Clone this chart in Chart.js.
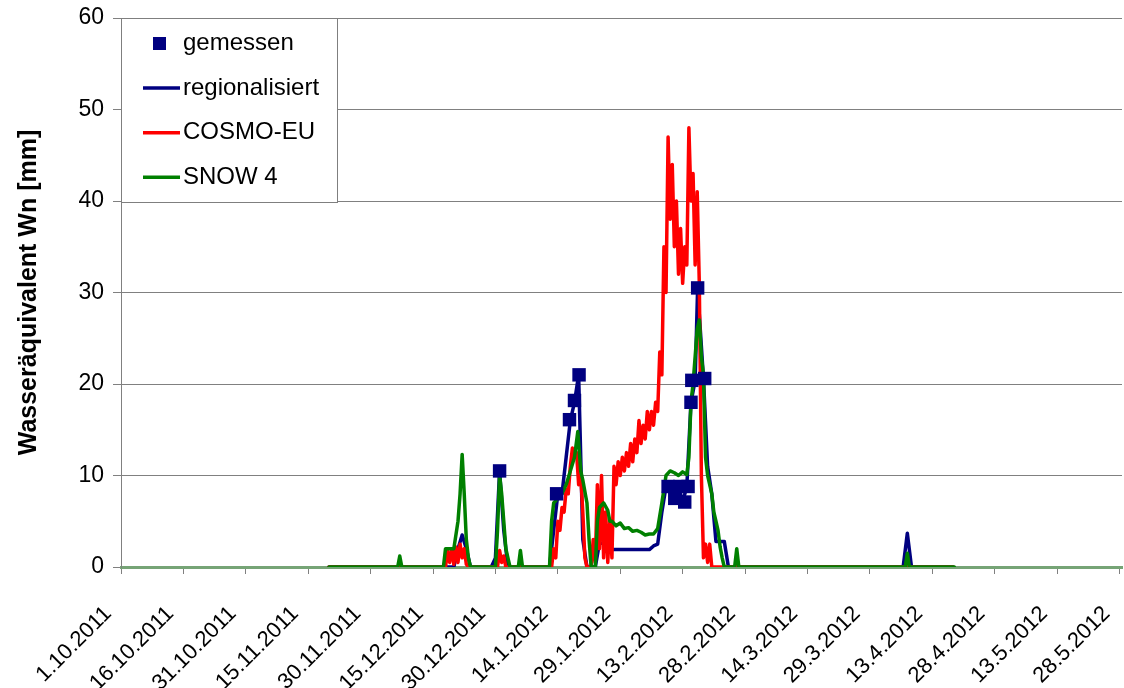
<!DOCTYPE html>
<html>
<head>
<meta charset="utf-8">
<script src="https://cdn.jsdelivr.net/npm/chart.js@4.4.0/dist/chart.umd.min.js"></script>
<style>
  body { margin: 0; background: #fff; }
  #wrap { width: 1124px; height: 688px; }
</style>
</head>
<body>
<div id="wrap"><canvas id="swe" width="1124" height="688"></canvas></div>
<script>
// days counted from 1.10.2011, x ticks every 15 days
const tickDays = [0, 15, 30, 45, 60, 75, 90, 105, 120, 135, 150, 165, 180, 195, 210, 225, 240];
const tickLabels = ['1.10.2011', '16.10.2011', '31.10.2011', '15.11.2011', '30.11.2011', '15.12.2011',
  '30.12.2011', '14.1.2012', '29.1.2012', '13.2.2012', '28.2.2012', '14.3.2012', '29.3.2012',
  '13.4.2012', '28.4.2012', '13.5.2012', '28.5.2012'];
const yTicks = [0, 10, 20, 30, 40, 50, 60];

// gemessen (measured points)
const measDays = [91, 104.7, 107.8, 109, 110.1, 131.5, 133.1, 134.3, 135.5, 136.3, 137, 137.2, 138.6, 140.3];
const measVals = [10.5, 8, 16.1, 18.2, 21, 8.8, 7.5, 8.8, 7.1, 8.8, 18, 20.4, 30.5, 20.6];

// regionalisiert
const regDays = [50, 80, 81, 82, 83, 84, 89, 90, 91, 92, 93, 103, 104, 105, 106, 107, 108, 109, 110, 111, 112,
  114, 115, 117, 118, 127, 128, 129, 130, 131, 132, 133, 134, 135, 136, 137, 138, 138.6, 140, 141, 142, 143,
  145, 146, 188, 189, 190, 200];
const regVals = [0, 0, 2, 3.5, 2, 0, 0, 1, 10.5, 4, 0, 0, 4, 8, 8, 12, 16, 18, 21, 3, 0,
  0, 2.6, 2.6, 1.9, 1.9, 2.3, 2.5, 6, 8.8, 8.5, 7.5, 8.8, 7.1, 8.8, 18, 20.4, 30.5, 20.6, 11, 8, 2.8,
  2.8, 0, 0, 3.7, 0, 0];

// COSMO-EU
const cosmoDays = [50, 78, 78.5, 79, 79.5, 80, 80.5, 81, 81.5, 82, 82.5, 83, 83.5, 90.5, 91, 91.5, 92, 92.5,
  103.5, 104, 104.5, 105, 105.5, 106, 106.5, 107, 107.5, 108, 108.5, 109, 109.5, 110, 110.5, 111, 111.5, 112,
  113, 113.5, 114, 114.5, 115, 115.5, 116, 116.5, 117, 117.5, 118, 118.5, 119, 119.5, 120, 120.5, 121, 121.5,
  122, 122.5, 123, 123.5, 124, 124.5, 125, 125.5, 126, 126.5, 127, 127.5, 128, 128.5, 129, 129.5, 130, 130.5,
  131, 131.5, 132, 132.5, 133, 133.5, 134, 134.5, 135, 135.5, 136, 136.5, 137, 137.5, 138, 138.5, 139, 139.5,
  140, 140.5, 141, 141.5, 142, 200];
const cosmoVals = [0, 0, 1.8, 0.5, 2, 0.3, 2.2, 0.5, 2.5, 1, 2, 0.3, 0, 0, 1.8, 0.5, 1.2, 0,
  0, 2, 1, 5, 4, 6.5, 6, 8.5, 8, 11, 13, 12, 12.5, 9, 10, 6, 1, 0,
  0, 3, 0.5, 9, 2, 10, 1, 6, 0.5, 5, 1, 11, 9, 11.5, 10, 12, 10.5, 12.5,
  11, 13.5, 11.5, 14, 12.5, 16, 13.5, 15.5, 14, 17, 15, 17, 15.5, 18, 17, 23.5, 21, 35,
  30, 47, 38, 44, 35, 40, 32, 37, 31, 35, 33, 48, 40, 43, 33, 41, 31, 10,
  1, 2.5, 0.5, 2.5, 0, 0];

// SNOW 4
const snowDays = [50, 66.5, 67, 67.5, 77.5, 78, 80, 81, 81.5, 82, 82.5, 83, 83.5, 84, 90, 90.5, 91, 91.5, 92,
  92.5, 93, 93.5, 95.5, 96, 96.5, 103, 103.5, 104, 105, 106, 107, 108, 109, 109.8, 110.5, 111, 112, 112.5, 113,
  114, 114.5, 115, 116, 117, 117.5, 118, 119, 120, 121, 122, 123, 124, 125, 126, 127, 128, 129, 130, 131, 132,
  133, 134, 135, 136, 136.5, 137, 137.5, 138, 138.5, 139, 139.5, 140, 140.5, 141, 141.5, 142, 142.5, 143, 143.5,
  144, 144.5, 145, 147.5, 148, 148.5, 188.5, 189, 189.5, 200.3];
const snowVals = [0, 0, 1.2, 0, 0, 2, 2, 5, 8, 12.3, 8, 3, 1, 0, 0, 4, 10, 8, 5,
  2, 1, 0, 0, 1.8, 0, 0, 5, 7, 7.5, 8, 9, 10.5, 12, 14.8, 10.5, 9.5, 7, 3, 0,
  0, 5, 6.5, 7, 6.2, 5, 5, 4.5, 4.8, 4.2, 4.3, 3.9, 4, 3.8, 3.5, 3.6, 3.6, 4.2, 7, 10, 10.5,
  10.3, 10, 10.4, 10.1, 12, 18, 20, 23, 26, 27, 23, 21, 12, 10, 9, 8, 6, 5, 4,
  2.2, 1, 0, 0, 2, 0, 0, 1.5, 0, 0];

const pts = (d, v) => d.map((x, i) => ({ x: x, y: v[i] }));

const FONT = '"Liberation Sans", Arial, sans-serif';

// legend box drawn inside the plot area, top left
const boxLegend = {
  id: 'boxLegend',
  afterDraw(chart) {
    const ctx = chart.ctx;
    const a = chart.chartArea;
    const x0 = Math.round(a.left), y0 = Math.round(a.top);
    ctx.save();
    ctx.fillStyle = '#fff';
    ctx.fillRect(x0, y0, 217, 184);
    ctx.strokeStyle = '#7f7f7f';
    ctx.lineWidth = 1;
    ctx.strokeRect(x0 + 0.5, y0 + 0.5, 216, 184);
    ctx.font = '24px ' + FONT;
    ctx.textBaseline = 'middle';
    chart.data.datasets.forEach((ds, i) => {
      const y = y0 + 25.5 + i * 44.6;
      if (ds.showLine === false) {
        ctx.fillStyle = ds.backgroundColor;
        ctx.fillRect(x0 + 32, y - 6.5, 13, 13);
      } else {
        ctx.strokeStyle = ds.borderColor;
        ctx.lineWidth = 3.5;
        ctx.beginPath();
        ctx.moveTo(x0 + 22, y);
        ctx.lineTo(x0 + 59, y);
        ctx.stroke();
      }
      ctx.fillStyle = '#000';
      ctx.fillText(ds.label, x0 + 62, y);
    });
    ctx.restore();
  }
};

const lineStyle = {
  pointRadius: 0,
  borderWidth: 3.5,
  borderJoinStyle: 'round',
  borderCapStyle: 'round',
  tension: 0
};

new Chart(document.getElementById('swe').getContext('2d'), {
  type: 'line',
  data: {
    datasets: [
      {
        label: 'gemessen',
        data: pts(measDays, measVals),
        showLine: false,
        pointStyle: 'rect',
        pointRadius: 9.5,
        pointBorderWidth: 0,
        backgroundColor: '#000080',
        borderColor: '#000080',
        order: 0
      },
      Object.assign({ label: 'regionalisiert', data: pts(regDays, regVals), borderColor: '#000080', order: 3 }, lineStyle),
      Object.assign({ label: 'COSMO-EU', data: pts(cosmoDays, cosmoVals), borderColor: '#ff0000', order: 2 }, lineStyle),
      Object.assign({ label: 'SNOW 4', data: pts(snowDays, snowVals), borderColor: '#008000', order: 1 }, lineStyle)
    ]
  },
  options: {
    responsive: false,
    animation: false,
    devicePixelRatio: 1,
    layout: { autoPadding: false, padding: { left: 0, top: 18, right: 2, bottom: 0 } },
    plugins: { legend: { display: false }, tooltip: { enabled: false } },
    scales: {
      x: {
        type: 'linear',
        min: 0,
        max: 240.6,
        afterBuildTicks: s => { s.ticks = tickDays.map(v => ({ value: v })); },
        afterFit: s => { s.height = 121; s.paddingLeft = 0; s.paddingRight = 0; },
        grid: { drawOnChartArea: false, drawTicks: true, tickLength: 7, color: '#808080' },
        border: { color: '#76a476', width: 3 },
        ticks: {
          autoSkip: false,
          minRotation: 45,
          maxRotation: 45,
          padding: 27,
          labelOffset: -13,
          color: '#000',
          font: { family: FONT, size: 22 },
          callback: v => tickLabels[tickDays.indexOf(v)]
        }
      },
      y: {
        min: 0,
        max: 60,
        afterBuildTicks: s => { s.ticks = yTicks.map(v => ({ value: v })); },
        afterFit: s => { s.width = 121; s.paddingTop = 0; s.paddingBottom = 0; },
        grid: { color: '#808080', lineWidth: 1, tickLength: 8 },
        border: { color: '#808080', width: 1 },
        ticks: { color: '#000', padding: 9, font: { family: FONT, size: 23 } },
        title: {
          display: true,
          text: 'Wasseräquivalent Wn [mm]',
          color: '#000',
          padding: { top: 14, bottom: 0 },
          font: { family: FONT, size: 25, weight: 'bold' }
        }
      }
    }
  },
  plugins: [boxLegend]
});
</script>
</body>
</html>
